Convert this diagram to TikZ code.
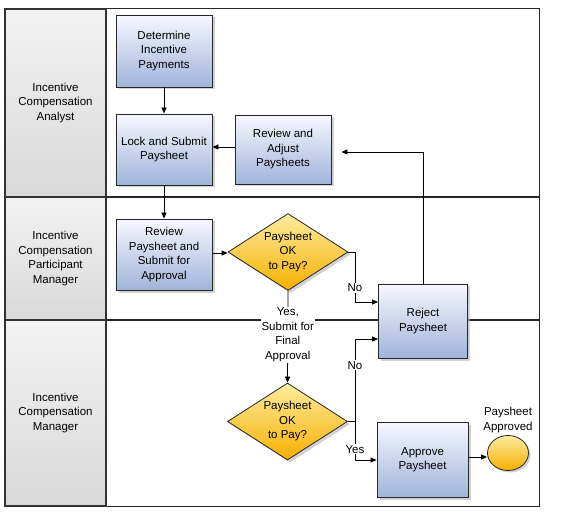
\documentclass[tikz,border=0pt]{standalone}
\usepackage{fontspec}
\setmainfont{Liberation Sans}
\usetikzlibrary{shapes.geometric,shadows,arrows.meta}
\begin{document}
\begin{tikzpicture}[x=1pt,y=-1pt,
  font=\fontsize{11.5}{14.5}\selectfont,
  lanelabel/.style={draw=black!80, line width=1.4pt, top color=gray!10, bottom color=gray!30, align=center, inner sep=0pt},
  task/.style={draw=black!85, line width=0.8pt, rectangle, top color=blue!3, bottom color={rgb,255:red,160;green,180;blue,218}, align=center, inner sep=1pt,
    drop shadow={shadow xshift=2.5pt, shadow yshift=-2.5pt, fill=gray!60, opacity=0.6}},
  decision/.style={draw=black!85, line width=0.8pt, diamond, aspect=1.56, top color={rgb,255:red,254;green,236;blue,160}, bottom color={rgb,255:red,246;green,176;blue,0}, align=center, inner sep=0pt, minimum width=120pt, minimum height=77pt,
    drop shadow={shadow xshift=2.5pt, shadow yshift=-2.5pt, fill=gray!60, opacity=0.6}},
  endev/.style={draw=black!85, line width=0.8pt, ellipse, top color={rgb,255:red,254;green,236;blue,160}, bottom color={rgb,255:red,246;green,176;blue,0}, minimum width=41pt, minimum height=35pt, inner sep=0pt,
    drop shadow={shadow xshift=2pt, shadow yshift=-2pt, fill=gray!60, opacity=0.6}},
  flow/.style={draw=black, line width=0.8pt, -{Triangle[length=6pt,width=5pt]}},
  sep/.style={draw=black!85, line width=1.6pt},
  lbl/.style={fill=white, inner sep=1pt, align=center}
]
\useasboundingbox (0,0) rectangle (563,516);
% lanes
\draw[draw=black!85, line width=1pt] (5,9) rectangle (539,506);
\node[lanelabel, minimum width=101pt, minimum height=188pt] (l1) at (55.5,103) {Incentive\\Compensation\\Analyst};
\node[lanelabel, minimum width=101pt, minimum height=123pt] (l2) at (55.5,258.5) {Incentive\\Compensation\\Participant\\Manager};
\node[lanelabel, minimum width=101pt, minimum height=186pt] (l3) at (55.5,413) {Incentive\\Compensation\\Manager};
\coordinate (s1a) at (106,197); \coordinate (s1b) at (539,197);
\coordinate (s2a) at (106,320); \coordinate (s2b) at (539,320);
\draw[sep] (s1a) -- (s1b);
\draw[sep] (s2a) -- (s2b);

% tasks
\node[task, minimum width=96pt, minimum height=72pt] (det) at (164,51) {Determine\\Incentive\\Payments};
\node[task, minimum width=96pt, minimum height=71pt] (lock) at (164,149.5) {Lock and Submit\\Paysheet};
\node[task, minimum width=96pt, minimum height=69pt] (radj) at (283,149.5) {Review and\\Adjust\\Paysheets};
\node[task, minimum width=96pt, minimum height=71pt] (rps) at (164,254.5) {Review\\Paysheet and\\Submit for\\Approval};
\node[decision] (d1) at (288,252) {Paysheet\\OK\\to Pay?};
\node[task, minimum width=89pt, minimum height=74pt] (rej) at (423,321) {Reject\\Paysheet};
\node[decision] (d2) at (287.5,421.5) {Paysheet\\OK\\to Pay?};
\node[task, minimum width=91pt, minimum height=75pt] (appr) at (422.5,459.5) {Approve\\Paysheet};
\node[endev] (done) at (508,453) {};
\node[align=center, inner sep=0pt] (donelbl) at (508,420) {Paysheet\\Approved};

% connectors
\draw[flow] (det) -- (lock);
\draw[flow] (radj.west |- 147,147) -- (lock.east |- 147,147);
\draw[flow] (lock) -- (rps);
\draw[flow] (rps.east |- 253,253) -- (d1.west |- 253,253);
\draw[flow] (d1.east) -- (355,252) |- (rej.west |- 302,302) node[pos=0.36, lbl] {No};
\draw[flow] (d1.south) -- (d2.north) node[pos=0.48, lbl] {Yes,\\Submit for\\Final\\Approval};
\draw[flow] (d2.east) -- (355,421.5) |- (rej.west |- 339,339) node[pos=0.34, lbl] {No};
\draw[flow] (d2.east) -- (355,421.5) |- (appr.west |- 460,460) node[pos=0.36, lbl] {Yes};
\draw[flow] (appr.east |- 457,457) -- (done.west |- 457,457);
\draw[flow, shorten >=10pt] (rej.north) |- (radj.east |- 152,152);
\end{tikzpicture}
\end{document}
